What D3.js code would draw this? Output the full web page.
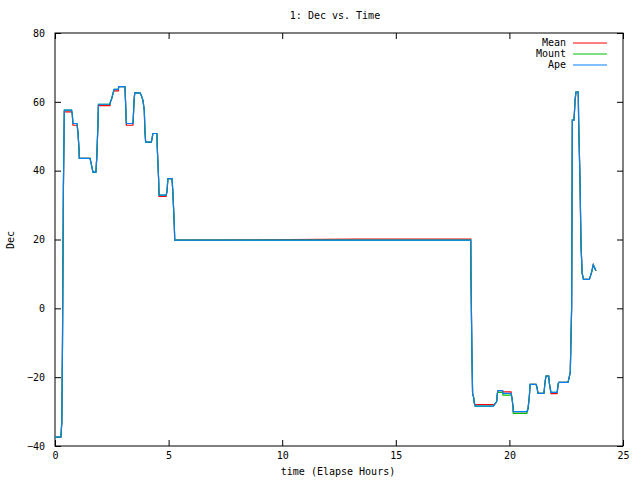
<!DOCTYPE html>
<html><head><meta charset="utf-8">
<script src="https://cdn.jsdelivr.net/npm/d3@7"></script>
<style>body{margin:0;background:#fff}text{font-family:"DejaVu Sans Mono",monospace;font-size:10px}</style>
</head><body><svg id="c" width="640" height="480"></svg>
<script>
const xs=[0,0.26,0.3,0.33,0.37,0.41,0.73,0.76,0.79,0.97,1.01,1.06,1.07,1.54,1.58,1.67,1.80,1.84,1.89,1.91,2.42,2.43,2.50,2.55,2.60,2.79,2.80,3.08,3.11,3.14,3.43,3.45,3.48,3.51,3.74,3.79,3.87,3.93,3.96,3.99,4.24,4.27,4.31,4.49,4.50,4.56,4.58,4.89,4.93,4.97,5.15,5.19,5.25,5.27,13.3,18.30,18.31,18.35,18.38,18.43,18.45,18.49,19.29,19.32,19.44,19.47,19.50,19.70,19.72,20.07,20.11,20.16,20.17,20.77,20.82,20.88,20.91,21.17,21.21,21.26,21.52,21.57,21.61,21.73,21.76,21.83,22.10,22.15,22.18,22.58,22.68,22.74,22.77,22.84,22.86,22.89,22.93,23.03,23.05,23.11,23.15,23.20,23.26,23.52,23.62,23.69,23.81];
const apeY=[-37.4,-37.4,-33,-10,35,57.6,57.6,56.5,53.7,53.7,51.2,46,43.6,43.6,42.5,39.6,39.6,44,53.5,59.3,59.3,59.8,61,62.4,63.6,63.6,64.4,64.4,59,53.7,53.7,55.9,60.5,62.6,62.6,62,60.5,57.5,51.3,48.3,48.3,49.3,50.8,50.8,47,37.6,32.9,32.9,34,37.7,37.7,33.5,24.2,19.8,19.8,19.8,9.2,-13,-24.7,-26,-27.4,-28.4,-28.4,-28.2,-27.1,-24.7,-23.9,-23.9,-24.7,-24.7,-25.9,-28.6,-30.0,-30.0,-29.2,-25.4,-22.1,-22.1,-22.8,-24.7,-24.7,-21.4,-19.7,-19.7,-21.8,-24.4,-24.4,-21.9,-21.5,-21.5,-18.6,0.5,54.7,54.7,56.6,60.5,62.8,62.8,53.8,36.4,19,10.3,8.4,8.4,10.5,12.6,10.9];
const meanY=[-37.4,-37.4,-33,-10,35,57.1,57.1,56.5,53.2,53.2,51.2,46,43.6,43.6,42.5,39.6,39.6,44,53.5,58.9,58.9,59.8,61,62.4,63.2,63.2,64.4,64.4,59,53.2,53.2,55.9,60.5,62.6,62.6,62,60.5,57.5,51.3,48.3,48.3,49.3,50.8,50.8,47,37.6,32.5,32.5,34,37.7,37.7,33.5,24.2,19.8,20.1,20.1,9.2,-13,-24.7,-26,-27.4,-28.0,-28.0,-28.2,-27.1,-24.7,-23.9,-23.9,-24.3,-24.3,-25.9,-28.6,-30.0,-30.0,-29.2,-25.4,-22.1,-22.1,-22.8,-24.7,-24.7,-21.4,-19.7,-19.7,-21.8,-24.8,-24.8,-21.9,-21.5,-21.5,-18.6,0.5,54.7,54.7,56.6,60.5,62.8,62.8,53.8,36.4,19,10.3,8.4,8.4,10.5,12.6,10.9];
const mountY=[-37.4,-37.4,-33,-10,35,57.6,57.6,56.5,53.7,53.7,51.2,46,43.6,43.6,42.5,39.6,39.6,44,53.5,59.3,59.3,59.8,61,62.4,63.6,63.6,64.4,64.4,59,53.7,53.7,55.9,60.5,62.6,62.6,62,60.5,57.5,51.3,48.3,48.3,49.3,50.8,50.8,47,37.6,32.9,32.9,34,37.7,37.7,33.5,24.2,19.8,19.8,19.8,9.2,-13,-24.7,-26,-27.4,-28.4,-28.4,-28.2,-27.1,-24.7,-24.4,-24.4,-25.2,-25.2,-25.9,-28.6,-30.5,-30.5,-29.2,-25.4,-22.1,-22.1,-22.8,-24.7,-24.7,-21.4,-19.7,-19.7,-21.8,-24.4,-24.4,-21.9,-21.5,-21.5,-18.6,0.5,54.7,54.7,56.6,60.5,62.8,62.8,53.8,36.4,19,10.3,8.4,8.4,10.5,12.6,10.9];
const series=[{name:"Mean",y:meanY,color:"#ff0000"},{name:"Mount",y:mountY,color:"#00c000"},{name:"Ape",y:apeY,color:"#0080ff"}];
const xTicks=[0,5,10,15,20,25], yTicks=[-40,-20,0,20,40,60,80];
const L=55,R=623,T=33,B=446;
const svg=d3.select("#c");
const x=d3.scaleLinear().domain([0,25]).range([L,R]);
const y=d3.scaleLinear().domain([-40,80]).range([B,T]);
svg.append("g").attr("transform",`translate(0,${B})`).call(d3.axisBottom(x).tickValues(xTicks).tickSizeInner(-6).tickSizeOuter(0).tickPadding(6)).call(g=>g.select(".domain").remove());
svg.append("g").attr("transform",`translate(0,${T})`).call(d3.axisTop(x).tickValues(xTicks).tickSizeInner(-6).tickSizeOuter(0).tickFormat("")).call(g=>g.select(".domain").remove());
svg.append("g").attr("transform",`translate(${L},0)`).call(d3.axisLeft(y).tickValues(yTicks).tickSizeInner(-6).tickSizeOuter(0).tickPadding(10)).call(g=>g.select(".domain").remove());
svg.append("g").attr("transform",`translate(${R},0)`).call(d3.axisRight(y).tickValues(yTicks).tickSizeInner(-6).tickSizeOuter(0).tickFormat("")).call(g=>g.select(".domain").remove());
svg.selectAll(".tick line").attr("stroke","#000");
svg.selectAll(".tick text").attr("fill","#000").style("font-family","DejaVu Sans Mono").style("font-size","10px");
svg.append("rect").attr("x",L).attr("y",T).attr("width",R-L).attr("height",B-T).attr("fill","none").attr("stroke","#000");
const line=d3.line().x((d,i)=>x(xs[i])).y(d=>y(d));
series.forEach(s=>svg.append("path").attr("d",line(s.y)).attr("fill","none").attr("stroke",s.color).attr("stroke-width",1.2));
series.forEach((s,i)=>{const ly=43+i*11;
 svg.append("text").attr("x",566).attr("y",ly+3).attr("text-anchor","end").text(s.name);
 svg.append("line").attr("x1",573).attr("x2",607).attr("y1",ly).attr("y2",ly).attr("stroke",s.color);});
svg.append("text").attr("x",335).attr("y",19).attr("text-anchor","middle").text("1: Dec vs. Time");
svg.append("text").attr("x",338).attr("y",475).attr("text-anchor","middle").text("time (Elapse Hours)");
svg.append("text").attr("transform","translate(14,240) rotate(-90)").attr("text-anchor","middle").text("Dec");
</script></body></html>
